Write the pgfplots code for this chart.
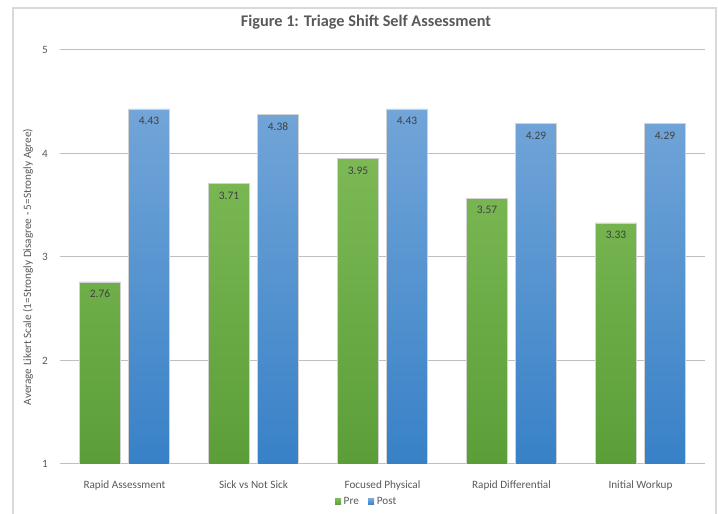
\documentclass[border=0pt]{standalone}
\usepackage{fontspec}
\setmainfont{Carlito}
\usepackage{pgfplots}
\pgfplotsset{compat=1.18}

\definecolor{txt}{HTML}{595959}
\definecolor{lbl}{HTML}{404040}
\definecolor{grid}{HTML}{D9D9D9}
\definecolor{greenTop}{HTML}{7CB955}
\definecolor{greenBot}{HTML}{5B9E38}
\definecolor{blueTop}{HTML}{72A5D8}
\definecolor{blueBot}{HTML}{3881C7}

\begin{document}
\begin{tikzpicture}
  % chart frame (bottom edge falls outside the image)
  \draw[grid, line width=0.8pt] (-35.25pt,-40pt) -- (-35.25pt,342pt) -- (492pt,342pt) -- (492pt,-40pt);

  \begin{axis}[
      at={(0,0)}, anchor=south west,
      scale only axis, width=483.75pt, height=310.5pt,
      ybar,
      xmin=-0.5, xmax=4.5, ymin=1, ymax=5,
      xtick={0,1,2,3,4},
      xticklabels={Rapid Assessment, Sick vs Not Sick, Focused Physical, Rapid Differential, Initial Workup},
      ytick={1,2,3,4,5},
      ymajorgrids, xmajorgrids=false,
      major grid style={grid, line width=0.75pt},
      axis line style={draw=none},
      tick style={draw=none},
      /pgf/number format/assume math mode=true,
      xticklabel style={font=\fontsize{8.4}{10}\selectfont, text=txt, anchor=base, yshift=-14.25pt},
      yticklabel style={font=\fontsize{8.4}{10}\selectfont, text=txt, anchor=center, xshift=-11.25pt},
      ylabel={Average Likert Scale (1=Strongly Disagree - 5=Strongly Agree)},
      ylabel style={font=\fontsize{8.4}{10}\selectfont, text=txt, at={(axis description cs:0,0.5)}, anchor=center, yshift=24pt, xshift=-7.5pt},
      bar width=0.32,
      nodes near coords,
      nodes near coords style={font=\fontsize{8.6}{10}\selectfont, text=lbl, anchor=center, yshift=-9pt,
        /pgf/number format/fixed, /pgf/number format/precision=2, /pgf/number format/fixed zerofill},
      legend columns=2,
      legend style={at={(axis description cs:0.476,0)}, anchor=center, yshift=-28.5pt, draw=none, fill=none,
        font=\fontsize{8.4}{10}\selectfont, text=txt, /tikz/every even column/.append style={column sep=5pt}},
      legend image code/.code={\fill[#1, draw=none] (0pt,-2.25pt) rectangle (4.5pt,2.25pt);},
    ]
    \addplot[bar shift=-0.19, draw=gray!35, line width=0.4pt, top color=greenTop, bottom color=greenBot]
      coordinates {(0,2.76) (1,3.71) (2,3.95) (3,3.57) (4,3.33)};
    \addlegendentry{Pre}
    \addplot[bar shift=0.19, draw=gray!35, line width=0.4pt, top color=blueTop, bottom color=blueBot]
      coordinates {(0,4.43) (1,4.38) (2,4.43) (3,4.29) (4,4.29)};
    \addlegendentry{Post}
  \end{axis}

  \node[font=\bfseries\fontsize{12.2}{14}\selectfont, text=txt] at (229.5pt,331.5pt) {Figure 1: Triage Shift Self Assessment};

  \pgfresetboundingbox
  \useasboundingbox (-45pt,-37.5pt) rectangle (493.5pt,348pt);
\end{tikzpicture}
\end{document}
